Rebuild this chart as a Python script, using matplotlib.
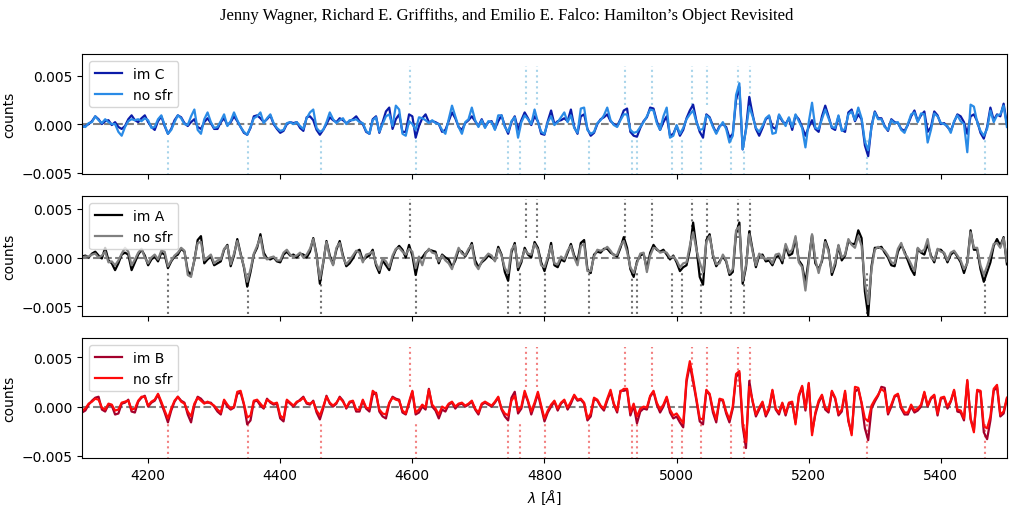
import numpy as np
import matplotlib
matplotlib.use("Agg")
import matplotlib.pyplot as plt

# wavelength grid of the read-off values [Angstrom]
wave = np.arange(4100, 5501, 5)

# spectra in units of 1e-3 counts, one row per 50 A
im_C = [
    -0.3, -0.2, 0.0, 0.3, 0.8, 0.5, 0.0, 0.3, 0.4, -0.1,
    0.2, -0.3, -0.5, -0.2, 0.5, 0.9, 0.4, 0.2, 0.6, 0.9,
    0.2, -0.3, -0.6, 0.3, 0.8, -0.2, -1.0, -0.5, 0.4, 0.9,
    0.7, 0.1, -0.2, 0.2, 0.5, -0.3, -0.5, 0.2, 0.6, 0.1,
    -0.5, -0.5, 0.2, 0.6, -0.1, 0.2, 0.8, 0.3, -0.3, -0.9,
    -1.1, -0.4, 0.8, 0.9, 0.6, 0.2, 0.5, 0.9, 0.0, -0.5,
    -0.9, -0.7, 0.0, 0.2, 0.1, 0.2, -0.4, -0.7, 0.7, 0.8,
    0.4, -0.6, -1.1, -0.6, 0.0, 0.7, 0.4, 0.2, 0.6, 0.4,
    0.1, 0.3, 0.5, 0.8, 0.3, 0.0, -0.8, -1.0, 0.5, 0.8,
    -0.9, 0.2, 1.3, 1.7, -0.5, 0.5, 1.0, -0.8, -0.8, 1.0,
    0.8, -1.4, -0.2, 0.6, 1.0, 0.2, 0.3, 0.2, 0.0, -0.8,
    -0.6, 0.3, 1.2, 0.6, -0.3, -0.6, 0.1, 0.4, 0.8, 0.3,
    -0.2, 0.5, -0.3, 0.2, 0.3, -0.5, 0.3, 0.9, -0.2, -1.0,
    0.2, 0.8, -0.6, 0.4, 1.2, 0.6, -0.1, 0.8, 0.3, -1.0,
    -1.1, 0.3, 1.4, 0.0, 0.3, 0.4, 0.6, 0.3, 1.5, -0.3,
    -1.0, 0.8, 1.0, -0.5, -1.2, -0.9, 0.0, 0.5, 0.7, 1.0,
    0.3, 0.0, -0.2, 0.5, 1.4, 1.6, -0.8, -1.2, -1.3, -0.4,
    0.3, 0.7, 1.7, 1.6, 0.3, -0.6, 0.2, 0.8, -1.2, -1.0,
    -0.2, -1.2, -0.6, 0.6, 1.4, 2.0, 0.3, -0.8, -1.4, 1.0,
    0.7, -0.2, -0.9, -0.2, 0.0, -0.3, -1.4, -1.0, 2.5, 3.8,
    -2.6, -0.5, 2.8, 1.0, -0.5, -1.2, -0.4, 0.5, 0.8, -0.3,
    -0.5, 0.9, 0.3, 0.0, 0.6, -0.6, 0.9, 0.5, -0.3, -1.2,
    -0.3, 0.4, -0.5, -0.8, 0.8, 1.9, 0.8, -0.4, -0.6, 0.8,
    -0.6, -0.8, 1.2, 1.5, 0.3, 1.0, 0.5, -2.2, -3.3, -0.2,
    1.3, 0.6, 0.6, -0.2, -0.7, 0.5, 0.2, 0.1, -0.5, -0.7,
    -0.1, 0.8, 1.4, 0.3, 0.9, 1.3, -0.8, -0.3, 1.3, 0.9,
    0.0, 0.1, -0.3, -0.7, 0.2, 1.0, 0.8, 0.2, -1.0, 0.8,
    1.0, 0.3, -0.9, -1.5, -0.3, 1.7, 0.4, 1.0, 0.8, 2.1,
    0.0,
]
nosfr_C = [
    -0.2, -0.3, 0.1, 0.2, 0.8, 0.4, 0.1, 0.5, 0.2, 0.0,
    0.0, -0.8, -1.2, -0.3, 0.3, 0.5, 0.4, 0.5, 0.3, 0.6,
    0.4, -0.4, -0.3, 0.5, 0.9, -0.1, -1.0, -0.6, 0.2, 0.9,
    0.6, 0.0, -0.1, 0.8, 1.5, -0.6, -1.0, 0.5, 1.2, 0.2,
    -0.4, -0.3, 0.3, 1.0, -0.2, 0.3, 1.2, 0.4, -0.3, -0.8,
    -1.1, -0.3, 0.6, 0.8, 1.2, 0.1, 0.6, 1.0, 0.1, -0.4,
    -0.7, -0.6, 0.1, 0.2, 0.0, 0.2, -0.2, -0.5, 0.6, 1.2,
    1.5, -0.4, -0.8, -0.6, 0.2, 1.2, 0.5, 0.1, 0.4, 0.6,
    0.0, 0.4, 0.4, 0.5, 0.2, 0.1, -0.7, -1.0, 0.4, 0.7,
    -0.8, 0.0, 0.8, 1.0, -0.2, 1.9, 1.5, -1.0, -1.2, 0.3,
    0.0, -0.6, 0.7, 0.6, 0.4, 0.1, 0.4, 0.1, 0.0, -0.6,
    -1.0, 0.5, 1.9, 0.8, -0.3, -1.0, 0.2, 0.5, 1.7, 0.4,
    -0.3, 0.4, -0.4, 0.3, 0.2, -0.6, 0.9, 0.9, -0.3, -0.8,
    0.3, 0.7, -1.4, 0.2, 0.9, 0.5, 0.0, 1.5, 0.2, -0.8,
    -1.0, 0.2, 0.8, -0.1, 0.2, 0.7, 1.2, 0.2, 0.9, -0.4,
    -0.9, 1.6, 1.7, -0.6, -1.0, -0.8, 0.1, 0.4, 0.9, 1.7,
    0.4, -0.1, -0.3, 0.4, 1.0, 1.0, -0.6, -0.9, -0.8, -0.3,
    0.2, 0.8, 1.5, 1.4, 0.1, -0.6, 0.8, 1.7, -1.4, -1.2,
    -0.1, -1.0, -0.4, 0.5, 1.0, 1.4, 0.2, -0.6, -0.5, 0.9,
    0.6, -0.3, -1.0, -0.3, 0.2, -0.5, -1.9, -1.2, 3.0, 4.2,
    -2.6, -0.6, 1.8, 0.8, -0.4, -0.8, -0.2, 0.6, 0.9, -1.0,
    -0.9, 1.0, 0.4, -0.2, 0.7, -0.3, 1.0, 0.3, -0.4, -2.4,
    0.2, 2.2, -0.4, -0.5, 0.5, 1.5, 0.6, -0.3, -0.4, 0.9,
    -0.7, -0.5, 1.0, 1.3, 0.4, 1.7, 0.6, -1.8, -2.7, -0.3,
    1.2, 0.5, 0.5, -0.3, -0.6, 0.4, 0.1, 0.2, -0.6, -0.9,
    0.0, 1.0, 1.2, 0.2, 1.1, 1.0, -1.9, -0.6, 1.1, 0.8,
    0.1, 0.0, -0.2, -0.9, 0.3, 0.9, 0.3, 0.0, -2.9, 2.0,
    1.8, 0.2, -0.7, -1.2, -0.5, 1.4, 0.2, 0.9, 1.0, 1.9,
    -0.3,
]
im_A = [
    0.1, 0.2, 0.0, 0.4, 0.6, 0.2, -0.1, 1.0, -0.3, -0.6,
    -1.3, -0.6, 0.3, 0.5, 0.3, -1.3, -0.5, 0.3, 0.8, 0.2,
    -0.8, -0.2, 0.1, -0.4, 0.5, 0.3, -1.1, -0.4, 0.1, 0.3,
    0.9, 0.6, -1.4, -1.8, -0.3, 1.8, 2.2, -0.6, -0.2, 0.1,
    -0.8, -0.6, -0.4, 0.8, 1.3, -0.9, 0.2, 1.9, 0.4, -1.0,
    -3.0, -1.5, 0.3, 1.0, 2.4, 0.5, -0.1, -0.2, 0.0, -0.4,
    -0.5, 0.3, 0.6, 0.2, 0.3, 0.0, 0.4, 0.3, 0.0, 0.6,
    2.0, 0.3, -2.7, -0.6, 1.7, 0.2, -0.7, 0.8, 1.7, 0.2,
    -0.9, -0.6, -0.1, 0.6, 0.8, -0.3, 0.0, 0.2, 0.8, -0.8,
    -1.6, -0.3, -0.8, -1.3, 0.0, 0.8, 1.2, 0.8, 0.0, 1.3,
    0.2, -1.8, -0.2, 0.0, 0.5, 0.8, 0.7, 0.6, -0.6, 0.3,
    0.0, -0.2, -1.0, -0.3, 0.8, 0.6, 0.1, 0.7, 1.5, -0.3,
    -1.0, -0.5, -0.2, 0.2, 0.0, -0.3, 1.1, 0.3, -1.5, -2.4,
    0.5, 1.5, -1.3, -0.5, 1.0, 0.3, 0.0, 1.6, 1.0, -0.5,
    -1.4, -0.2, 1.5, -0.8, -1.0, -0.2, -0.4, 0.5, 1.4, 0.2,
    -0.4, 1.5, 1.8, -1.2, -1.6, 0.3, 0.6, 0.5, 0.9, 0.9,
    0.5, 0.3, 0.1, 1.0, 2.1, 1.0, -1.2, -2.0, -0.4, 0.2,
    0.4, -1.2, 0.5, 1.3, 0.8, 0.6, 0.8, 0.3, -0.2, 0.2,
    -0.5, -1.4, -1.0, -0.8, 0.8, 3.6, 1.0, -2.0, -2.8, 1.8,
    2.4, 0.2, -0.9, -0.4, 0.1, -0.4, -1.8, -1.5, 2.5, 3.6,
    -2.7, -1.0, 2.7, 0.8, -1.0, 0.2, 0.3, -0.4, -0.3, -0.8,
    0.0, 0.2, -0.6, 1.2, 0.2, 0.4, 2.0, -0.3, -0.8, -2.6,
    -0.2, 2.3, -0.6, -1.2, -0.4, 1.8, 0.8, -1.8, -0.8, 1.2,
    -0.3, 0.2, 1.7, 1.4, 1.4, 2.8, 2.0, -3.5, -6.0, -0.9,
    1.0, 1.0, 1.1, 0.5, 0.0, -0.8, -0.9, 0.6, 1.3, 0.6,
    -0.3, -1.2, -1.8, 0.9, 0.5, 0.3, 1.4, 0.2, -0.5, 0.8,
    0.8, 0.4, -0.5, 0.3, 0.6, 0.1, -0.5, -1.6, -0.5, 2.8,
    0.8, 0.8, -1.2, -2.5, -1.5, -0.5, 1.2, 1.9, 1.2, 2.1,
    -0.7,
]
nosfr_A = [
    0.0, 0.1, 0.1, 0.3, 0.4, 0.0, 0.2, 0.6, -0.5, -0.4,
    -0.8, -0.3, 0.4, 1.0, 0.6, -0.8, -0.2, 0.5, 0.9, 0.0,
    -0.6, 0.0, 0.3, -0.2, 0.7, 0.6, -0.9, -0.3, 0.2, 0.5,
    1.0, 0.7, -1.8, -2.0, -0.2, 1.5, 1.6, -0.3, 0.0, 0.3,
    -0.6, -0.3, -0.2, 0.9, 1.2, -0.7, 0.4, 1.7, 0.3, -0.9,
    -2.5, -1.2, 0.4, 1.2, 2.1, 0.2, -0.2, 0.0, 0.1, -0.3,
    -0.3, 0.5, 0.8, 0.3, 0.1, 0.2, 0.5, 0.0, 0.3, 0.9,
    1.9, 0.1, -2.2, -0.5, 1.6, 0.0, -0.8, 1.0, 1.5, 0.0,
    -0.7, -0.3, 0.2, 0.7, 0.5, -0.5, 0.3, 0.4, 0.6, -0.6,
    -1.3, -0.1, -0.4, -1.0, 0.2, 0.9, 1.0, 0.6, 0.3, 0.9,
    0.6, -1.1, 0.1, -0.8, 0.4, 0.9, 0.5, 0.4, -0.4, 0.2,
    -0.3, -0.6, -1.2, 0.0, 1.0, 0.4, 0.2, 0.9, 1.3, -0.7,
    -1.2, -0.4, 0.0, 0.4, 0.2, -0.4, 0.9, 0.2, -1.1, -1.6,
    0.8, 1.3, -1.0, -0.3, 0.8, 0.4, 0.3, 1.4, 0.8, -0.8,
    -1.0, 0.0, 1.2, -0.6, -0.7, 0.1, -0.2, 0.7, 1.2, 0.0,
    -0.8, 1.2, 1.4, -1.4, -1.4, 0.1, 0.8, 0.7, 0.8, 1.1,
    0.7, 0.2, 0.3, 1.2, 1.7, 0.6, -1.0, -1.6, -0.6, 0.4,
    0.5, -1.5, 0.2, 1.0, 0.9, 0.5, 0.6, 0.5, 0.0, 0.1,
    -0.3, -1.0, -0.6, -0.5, 1.2, 2.6, 0.8, -0.5, -1.5, 1.6,
    2.2, 0.3, -0.7, -0.6, 0.3, -0.3, -1.6, -1.2, 2.8, 3.2,
    -2.4, -0.8, 2.4, 0.6, -0.8, 0.4, 0.1, -0.2, -0.1, -0.6,
    0.3, 0.4, -0.3, 1.4, 0.5, 0.8, 2.2, -0.5, -1.0, -3.4,
    -0.5, 2.4, -0.2, -1.6, -0.2, 1.6, 0.6, -1.5, -0.5, 1.3,
    0.0, 0.3, 1.9, 1.3, 1.0, 2.2, 1.2, -2.6, -4.8, -1.2,
    0.8, 1.1, 0.9, 0.7, 0.2, -0.5, -0.6, 0.9, 1.5, 0.4,
    0.0, -0.7, -1.4, 1.0, 0.6, 0.8, 1.9, 0.0, -0.3, 0.9,
    0.6, 0.5, -0.3, 0.5, 0.7, 0.2, -0.3, -1.2, -0.6, 2.6,
    1.0, 1.0, -0.8, -1.8, -0.9, 0.2, 1.4, 1.5, 1.0, 2.0,
    -0.4,
]
im_B = [
    -0.6, -0.4, 0.2, 0.6, 0.9, 1.0, -0.3, -0.5, 0.2, 0.1,
    -0.8, -0.7, 0.3, 0.4, 0.7, -0.5, -0.6, 0.5, 0.9, 1.1,
    0.0, 0.4, 0.6, 1.2, 0.3, -0.6, -1.6, -0.4, 0.5, 1.0,
    0.6, 0.4, -0.8, -1.6, 0.1, 1.0, 0.8, 0.4, 0.4, 0.4,
    0.0, -0.5, -0.8, 0.6, 0.0, -0.3, -0.1, 1.3, 1.4, 0.2,
    -1.8, -1.4, 0.5, 0.6, 0.1, -0.2, 0.8, 0.4, 0.2, 0.3,
    -1.2, -1.5, 0.6, 0.3, 0.0, 0.4, 0.7, 1.0, 0.3, 0.2,
    0.6, -0.6, -1.3, -0.2, 1.1, 0.3, 0.0, 0.3, 1.0, 0.6,
    -0.2, 0.4, 0.5, -0.5, -0.5, 0.6, -0.2, -0.5, 1.2, 1.4,
    -0.5, -1.0, -1.2, 0.3, 1.0, 0.8, 0.7, -0.6, -0.8, 0.3,
    1.5, -0.8, -0.6, 0.0, -0.3, 1.8, 0.0, -0.4, -1.2, -0.3,
    -0.5, 0.2, 0.4, -0.2, 0.2, 0.3, 0.0, 0.2, 0.5, -0.3,
    -0.8, 0.2, 0.4, 0.2, 0.0, 0.4, 0.9, -0.3, -1.0, -1.4,
    0.9, 1.5, -0.7, -0.2, 1.4, 0.5, -0.8, 0.2, 1.3, -0.1,
    -1.5, -0.6, 0.0, 0.5, -0.4, 0.3, 0.6, -0.3, 0.3, 1.1,
    0.6, 0.7, 0.3, -1.4, -1.0, 0.8, 0.6, 0.0, -0.4, 0.6,
    1.5, 0.2, -0.6, 1.6, 1.6, 1.7, -0.9, 0.1, -1.7, -0.5,
    -0.2, -0.3, 1.0, 1.5, 0.2, -0.6, 0.0, 0.9, -0.6, -1.2,
    -1.0, -1.6, -2.1, 2.5, 4.2, 2.5, 0.6, -1.5, -1.8, 1.6,
    1.2, -0.6, -1.6, 0.7, 0.6, -0.7, -1.6, -0.2, 3.0, 3.4,
    -2.0, -4.2, 2.6, 0.5, -1.0, -0.3, 0.4, -1.0, -0.3, 1.6,
    -0.3, -0.8, 0.3, -0.9, 0.3, 0.3, -1.6, 1.0, 2.0, -0.4,
    2.3, -2.6, -0.8, 0.4, 1.1, -0.3, -0.6, 1.5, 0.8, -0.9,
    -0.5, 1.4, -1.5, -2.7, 1.5, 1.8, 0.3, -2.2, -3.4, -0.2,
    0.5, 1.1, 2.0, 1.9, -0.8, 0.0, 1.0, 1.2, -0.2, -0.8,
    -0.8, 0.0, -0.6, -0.4, 0.0, 1.4, 0.0, 0.8, 1.1, -0.9,
    0.8, 0.9, -0.2, 0.5, 1.6, -0.5, -0.6, -1.4, 2.6, -1.2,
    -2.4, 1.6, 1.5, -2.6, -3.3, -1.4, 1.6, 2.0, -1.0, -0.7,
    0.8,
]
nosfr_B = [
    -0.4, -0.2, 0.3, 0.5, 0.8, 0.7, -0.1, -0.3, 0.3, 0.2,
    -0.4, -0.3, 0.4, 0.5, 0.6, -0.3, -0.2, 0.6, 1.0, 1.0,
    0.1, 0.5, 0.7, 1.3, 0.5, -0.4, -1.2, -0.2, 0.6, 1.0,
    0.5, 0.3, -0.5, -1.0, 0.3, 0.9, 0.6, 0.3, 0.5, 0.3,
    0.1, -0.3, -0.6, 0.7, 0.2, -0.2, 0.0, 1.5, 1.6, 0.3,
    -1.1, -0.9, 0.6, 0.7, 0.3, -0.1, 0.7, 0.5, 0.3, 0.4,
    -0.9, -1.2, 0.7, 0.4, 0.1, 0.5, 0.6, 0.9, 0.4, 0.3,
    0.5, -0.4, -0.9, 0.0, 1.0, 0.4, 0.1, 0.4, 0.9, 0.5,
    -0.1, 0.5, 0.6, -0.3, -0.3, 0.7, -0.1, -0.2, 1.6, 1.3,
    -0.3, -0.7, -0.8, 0.4, 0.9, 0.7, 0.6, -0.4, -0.7, 0.5,
    1.6, -0.6, -0.3, 0.2, -0.1, 1.7, 0.2, -0.2, -0.8, 0.0,
    -0.2, 0.3, 0.5, 0.0, 0.3, 0.4, 0.1, 0.3, 0.6, -0.2,
    -0.6, 0.3, 0.5, 0.3, 0.1, 0.5, 1.0, -0.2, -0.7, -0.9,
    0.6, 1.1, -0.4, 0.0, 1.6, 0.6, -0.5, 0.4, 1.5, 0.1,
    -1.2, -0.4, 0.2, 0.6, -0.2, 0.4, 0.7, -0.1, 0.5, 1.2,
    0.7, 0.8, 0.4, -1.2, -0.7, 0.9, 0.7, 0.1, -0.2, 0.8,
    1.7, 0.3, -0.4, 1.5, 1.8, 1.8, -0.6, 0.3, -1.0, -0.2,
    0.0, -0.1, 1.1, 1.6, 0.4, -0.3, 0.2, 1.0, -0.3, -0.9,
    -0.7, -1.2, -1.7, 2.8, 4.6, 2.8, 0.8, -1.2, -1.3, 1.7,
    1.3, -0.3, -1.3, 0.8, 0.7, -0.5, -1.3, 0.0, 3.3, 3.6,
    -1.6, -3.6, 2.0, 0.6, -0.8, -0.1, 0.5, -0.8, -0.1, 1.7,
    -0.2, -0.6, 0.4, -0.7, 0.4, 0.5, -1.8, 1.2, 2.1, -0.2,
    2.4, -2.9, -0.6, 0.6, 1.2, -0.1, -0.4, 1.6, 0.9, -0.7,
    -0.3, 1.6, -1.3, -2.9, 2.0, 1.9, 0.4, -1.2, -1.5, 0.1,
    0.7, 1.2, 1.8, 1.5, -0.6, 0.2, 1.1, 1.3, 0.0, -0.6,
    -0.6, 0.2, -0.4, -0.2, 0.2, 1.5, 0.1, 0.9, 1.2, -0.7,
    0.9, 1.0, 0.0, 0.6, 1.7, -0.3, -0.4, -1.2, 2.7, -1.3,
    -2.6, 1.7, 1.6, -2.0, -2.2, -1.0, 1.8, 2.2, -0.8, -0.5,
    0.9,
]

# marked line positions [Angstrom]
lines_up = [4597, 4772, 4788, 4922, 4963, 5024, 5046, 5093, 5111]
lines_down = [4230, 4351, 4462, 4606, 4745, 4763, 4801, 4867, 4932, 4940,
              4993, 5008, 5037, 5083, 5102, 5288, 5467]

panels = [
    (im_C, nosfr_C, "im C", "#0b1ba8", "#2a8be6", "#a8d4ea", (-0.0051, 0.0072)),
    (im_A, nosfr_A, "im A", "black", "#808080", "#707070", (-0.0060, 0.0063)),
    (im_B, nosfr_B, "im B", "#a3002c", "#ff0a0a", "#f28080", (-0.0052, 0.0069)),
]

fig, axes = plt.subplots(3, 1, figsize=(10.13, 5.06), dpi=100, sharex=True)
fig.subplots_adjust(left=0.081, right=0.994, top=0.891, bottom=0.093, hspace=0.19)

for ax, (im, nosfr, name, c_im, c_no, c_vl, ylim) in zip(axes, panels):
    ax.vlines(lines_up, 0.002, 0.006, colors=c_vl, linestyles=":", lw=1.5)
    ax.vlines(lines_down, -0.007, -0.0015, colors=c_vl, linestyles=":", lw=1.5)
    ax.axhline(0, color="gray", ls="--", lw=1.5, zorder=1)
    ax.plot(wave, np.array(im) * 1e-3, color=c_im, lw=1.6,
            solid_joinstyle="round", label=name)
    ax.plot(wave, np.array(nosfr) * 1e-3, color=c_no, lw=1.6,
            solid_joinstyle="round", label="no sfr")
    ax.set_ylim(*ylim)
    ax.set_yticks([-0.005, 0, 0.005])
    ax.set_ylabel("counts")
    ax.legend(loc="upper left", fontsize=10)

axes[-1].set_xlim(4100, 5500)
axes[-1].set_xticks(np.arange(4200, 5401, 200))
axes[-1].set_xlabel(r"$\lambda$ [$\AA$]")

fig.suptitle("Jenny Wagner, Richard E. Griffiths, and Emilio E. Falco: Hamilton\u2019s Object Revisited",
             fontsize=12, family="Liberation Serif", y=0.985)

fig.savefig("out.png", dpi=100)
